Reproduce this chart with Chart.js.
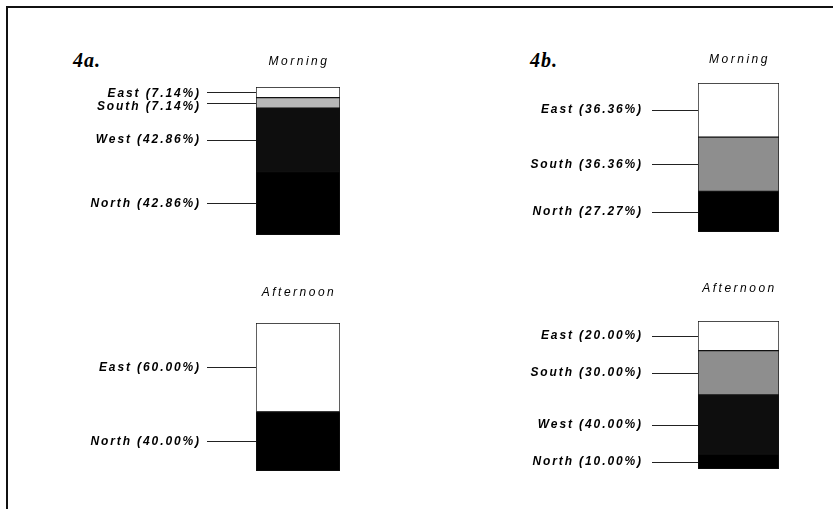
<!doctype html>
<html lang="en">
  <head>
    <meta charset="utf-8">
    <title>Figure 4 - direction by time of day</title>
    <script src="https://cdn.jsdelivr.net/npm/chart.js@4.4.1/dist/chart.umd.min.js"></script>
    <style>
      body { margin: 0; background: #fff; }
      #fig { position: relative; width: 833px; height: 509px; overflow: hidden; background: #fff; }
      .frame-top { position: absolute; left: 7px; top: 6px; width: 830px; height: 2px; background: #111; }
      .frame-left { position: absolute; left: 6px; top: 6px; width: 2px; height: 510px; background: #111; }
      .tag { position: absolute; font: bold italic 20px "Liberation Serif", serif; line-height: 20px; letter-spacing: 1px; color: #000; }
      .holder { position: absolute; }
    </style>
  </head>
  <body>

<div id="fig">
  <div class="frame-top"></div>
  <div class="frame-left"></div>
  <div class="tag" style="left:73px; top:50px;">4a.</div>
  <div class="tag" style="left:530px; top:50px;">4b.</div>
</div>

<script>
  // stacking order, bottom to top
  var regions = ['North', 'West', 'South', 'East'];

  // percentages per region, same order as regions
  var morningA   = [42.86, 42.86, 7.14, 7.14];
  var afternoonA = [40.00, 0, 0, 60.00];
  var morningB   = [27.27, 0, 36.36, 36.36];
  var afternoonB = [10.00, 40.00, 30.00, 20.00];

  var periods = ['Morning', 'Afternoon'];

  // fills: North, West, South, East
  var fillsA = ['#000000', '#0e0e0e', '#b8b8b8', '#ffffff'];
  var fillsB = ['#000000', '#0e0e0e', '#8e8e8e', '#ffffff'];

  var LABEL_FONT = 'italic bold 12px "Liberation Sans", Arial, sans-serif';
  var TITLE_FONT = 'italic 12px "Liberation Sans", Arial, sans-serif';

  // leader lines + labels + small title over the bar
  var leaderLabels = {
    id: 'leaderLabels',
    afterDatasetsDraw: function(chart, args, opts) {
      var ctx = chart.ctx;
      var area = chart.chartArea;
      ctx.save();
      chart.data.datasets.forEach(function(ds, i) {
        var v = ds.data[0];
        if (!v) return;
        var el = chart.getDatasetMeta(i).data[0];
        var y = (el.y + el.base) / 2;
        var ly = Math.round(y) + 0.5;
        ctx.strokeStyle = '#222';
        ctx.lineWidth = 1;
        ctx.beginPath();
        ctx.moveTo(area.left - opts.lineLength, ly);
        ctx.lineTo(area.left, ly);
        ctx.stroke();

        var shift = (opts.shift && opts.shift[ds.label]) || 0;
        ctx.font = LABEL_FONT;
        ctx.letterSpacing = '1.9px';
        ctx.fillStyle = '#000';
        ctx.textAlign = 'right';
        ctx.textBaseline = 'middle';
        ctx.fillText(ds.label + ' (' + v.toFixed(2) + '%)', area.left - opts.lineLength - opts.gap, y + shift);
      });

      ctx.font = TITLE_FONT;
      ctx.letterSpacing = '2.5px';
      ctx.textAlign = 'center';
      ctx.textBaseline = 'middle';
      ctx.fillStyle = '#000';
      ctx.fillText(opts.title, (area.left + area.right) / 2 + 1, area.top - opts.titleGap);
      ctx.restore();
    }
  };

  function makeBar(values, fills, title, box, extra) {
    var padLeft = 190, padRight = 8, padTop = box.top - box.titleY + 12, padBottom = 6;
    var holder = document.createElement('div');
    holder.className = 'holder';
    holder.style.left = (box.left - padLeft) + 'px';
    holder.style.top = (box.titleY - 12) + 'px';
    var w = padLeft + box.width + padRight;
    var h = padTop + box.height + padBottom;
    holder.style.width = w + 'px';
    holder.style.height = h + 'px';
    var canvas = document.createElement('canvas');
    canvas.width = w;
    canvas.height = h;
    canvas.style.width = w + 'px';
    canvas.style.height = h + 'px';
    holder.appendChild(canvas);
    document.getElementById('fig').appendChild(holder);

    var datasets = regions.map(function(r, i) {
      return {
        label: r,
        data: [values[i]],
        backgroundColor: fills[i],
        borderColor: '#111',
        borderWidth: values[i] ? 1 : 0,
        borderSkipped: false
      };
    });

    return new Chart(canvas, {
      type: 'bar',
      data: { labels: [title], datasets: datasets },
      options: {
        responsive: false,
        animation: false,
        barPercentage: 1,
        categoryPercentage: 1,
        layout: { padding: { left: padLeft, right: padRight, top: padTop, bottom: padBottom } },
        scales: {
          x: { stacked: true, display: false },
          y: { stacked: true, display: false, min: 0, max: 100 }
        },
        plugins: {
          legend: { display: false },
          tooltip: { enabled: false },
          leaderLabels: Object.assign({ title: title, titleGap: box.top - box.titleY }, extra)
        }
      },
      plugins: [leaderLabels]
    });
  }

  makeBar(morningA, fillsA, periods[0],
    { left: 256, top: 87, width: 84, height: 148, titleY: 62 },
    { lineLength: 49, gap: 6, shift: { East: 1, South: 4 } });
  makeBar(afternoonA, fillsA, periods[1],
    { left: 256, top: 323, width: 84, height: 148, titleY: 293 },
    { lineLength: 49, gap: 6 });
  makeBar(morningB, fillsB, periods[0],
    { left: 698, top: 83, width: 81, height: 149, titleY: 60 },
    { lineLength: 46, gap: 9 });
  makeBar(afternoonB, fillsB, periods[1],
    { left: 698, top: 321, width: 81, height: 148, titleY: 289 },
    { lineLength: 46, gap: 9 });
</script>
  </body>
</html>
